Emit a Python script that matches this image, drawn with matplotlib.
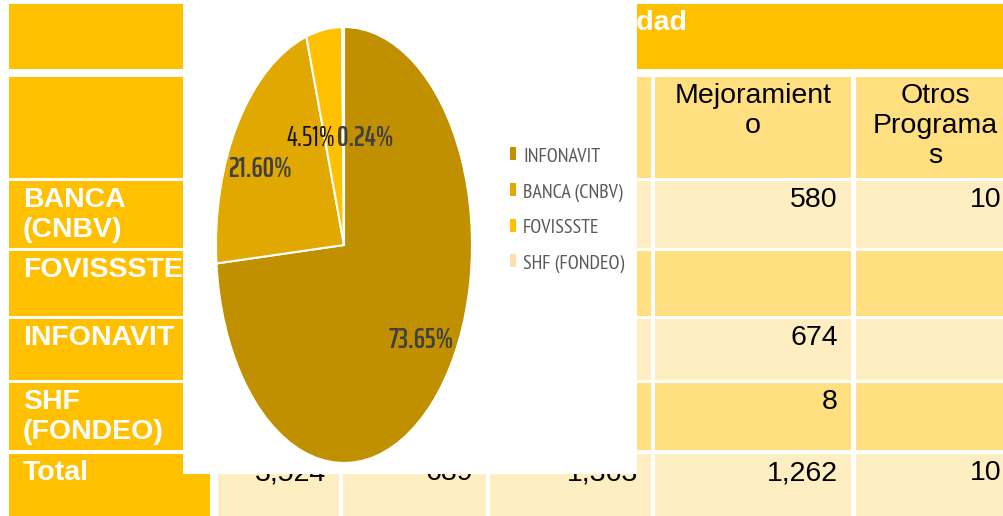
import matplotlib
matplotlib.use('Agg')
import matplotlib.pyplot as plt
from matplotlib.patches import Rectangle

# pie data
sources = ['INFONAVIT', 'BANCA (CNBV)', 'FOVISSSTE', 'SHF (FONDEO)']
shares = [73.65, 21.60, 4.51, 0.24]
colors = ['#C09000', '#E0A800', '#FFC000', '#FFDDB0']

# table behind the chart
row_labels = ['BANCA\n(CNBV)', 'FOVISSSTE', 'INFONAVIT', 'SHF\n(FONDEO)', 'Total']
col_headers = ['', '', '', 'Mejoramient\no', 'Otros\nPrograma\ns']
mejoramiento = ['580', '', '674', '8', '1,262']
otros = ['10', '', '', '', '10']
total_row = ['3,524', '689', '1,363', '1,262', '10']
title_text = 'Modalidad'

ORANGE = '#FFC000'
DARK = '#FFDF80'
LIGHT = '#FFEEC2'

fig = plt.figure(figsize=(10.04, 5.16), dpi=100)
bg = fig.add_axes([0, 0, 1, 1])
bg.set_xlim(0, 1004)
bg.set_ylim(516, 0)
bg.axis('off')

# cell grid in pixels
col_edges = [(9, 210), (218, 339), (343, 486), (490, 651), (655, 851), (856, 1015)]
row_edges = [(77, 178), (181, 248), (251, 316), (319, 380), (383, 450), (454, 520)]
band = [DARK, LIGHT, DARK, LIGHT, DARK, LIGHT]
pad_top = 6

# top merged header row
bg.add_patch(Rectangle((9, 4), 1010, 65, color=ORANGE, lw=0))
bg.text(687, 4 + pad_top, title_text, ha='right', va='top', color='white',
        fontsize=20.5, fontweight='bold', family='Liberation Sans')

tfont = dict(fontsize=20.5, family='Liberation Sans')
for r, (y0, y1) in enumerate(row_edges):
    for c, (x0, x1) in enumerate(col_edges):
        bg.add_patch(Rectangle((x0, y0), x1 - x0, y1 - y0,
                               color=ORANGE if c == 0 else band[r], lw=0))
    if r == 0:
        for c, h in enumerate(col_headers):
            if h:
                x0, x1 = col_edges[c + 1]
                bg.text((x0 + x1) / 2, y0 + pad_top, h, ha='center', va='top',
                        color='black', **tfont)
        continue
    bg.text(23, y0 + pad_top, row_labels[r - 1], ha='left', va='top', color='white',
            fontweight='bold', **tfont)

data_rows = list(zip(mejoramiento, otros))
for r in range(5):
    y0 = row_edges[r + 1][0]
    vals = ['', '', ''] + list(data_rows[r]) if r < 4 else total_row
    for c, v in enumerate(vals):
        if v:
            bg.text(col_edges[c + 1][1] - 13, y0 + pad_top, v, ha='right', va='top',
                    color='black', **tfont)

# white chart area laid over the table
bg.add_patch(Rectangle((183, 0), 454, 474, color='white', lw=0, zorder=5))

# legend
lfont = dict(fontsize=14.4, family='PT Sans Narrow', color='#595959')
for i, (name, col) in enumerate(zip(sources, colors)):
    base = 161.5 + i * 35.75
    bg.add_patch(Rectangle((510, base - 14.5), 6, 13, color=col, lw=0, zorder=6))
    bg.text(523, base, name, ha='left', va='baseline', zorder=7, **lfont)

# pie, squeezed horizontally like the original
ax = fig.add_axes([216 / 1004, (516 - 463) / 516, 256 / 1004, 436 / 516])
ax.pie(shares, colors=colors, startangle=90, counterclock=False,
       wedgeprops=dict(edgecolor='white', linewidth=1.5))
ax.set_aspect('auto')
ax.set_xlim(-1, 1)
ax.set_ylim(-1, 1)
ax.axis('off')

label_xy = [(0.60, -0.436), (-0.656, 0.349), (-0.262, 0.493), (0.168, 0.493)]
label_color = ['#404040', '#404040', '#111111', '#404040']
label_weight = [600, 600, 'normal', 600]
for s, (lx, ly), lc, lw in zip(shares, label_xy, label_color, label_weight):
    ax.text(lx, ly, '%.2f%%' % s, ha='center', va='center', color=lc,
            fontsize=20.5, fontweight=lw, family='Saira ExtraCondensed')

fig.savefig('out.png', dpi=100)
